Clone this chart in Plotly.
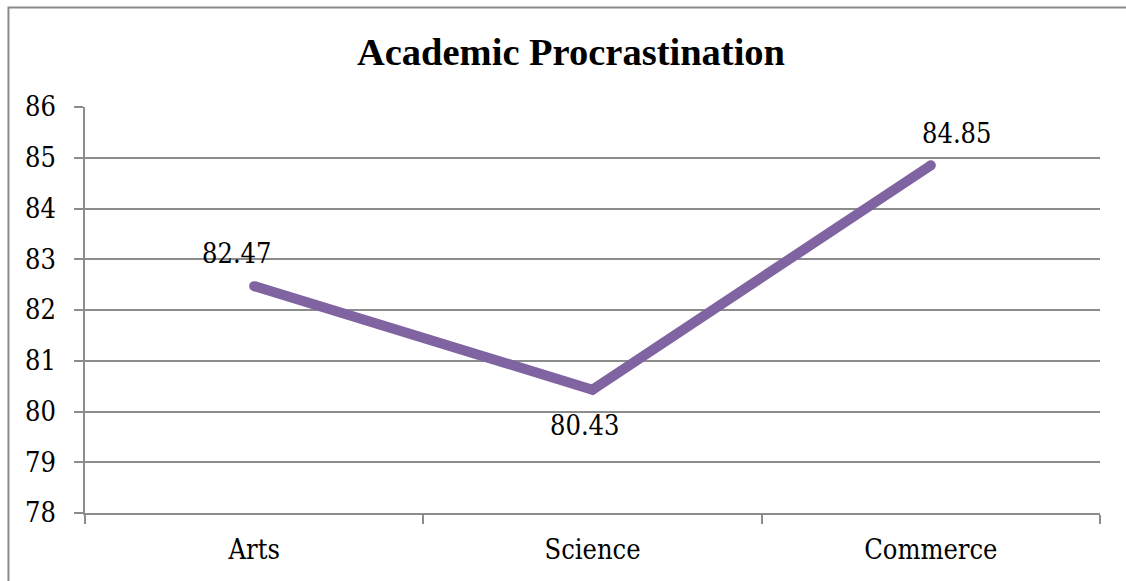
import plotly.graph_objects as go

# Mean academic procrastination score per stream
streams = ["Arts", "Science", "Commerce"]
scores = [82.47, 80.43, 84.85]
y_ticks = [78, 79, 80, 81, 82, 83, 84, 85, 86]

LINE_COLOR = "#8064A2"
GRID_COLOR = "#8c8c8c"
TITLE_FONT = "Liberation Serif"
TEXT_FONT = "DejaVu Serif Condensed, DejaVu Serif"
TEXT_SIZE = 27

fig = go.Figure()
fig.add_trace(go.Scatter(
    x=streams, y=scores, mode="lines+markers",
    line=dict(color=LINE_COLOR, width=10),
    marker=dict(color=LINE_COLOR, size=10),
    hoverinfo="x+y", showlegend=False,
))

# value labels (offsets in px relative to each point)
label_offsets = [(-17, 33), (-8, -36), (26, 32)]
for s, v, (dx, dy) in zip(streams, scores, label_offsets):
    fig.add_annotation(x=s, y=v, text=f"{v:.2f}", showarrow=False,
                       xshift=dx, yshift=dy,
                       font=dict(family=TEXT_FONT, size=TEXT_SIZE, color="#000"))

# outer chart frame
fig.add_shape(type="rect", xref="paper", yref="paper",
              x0=-0.0754, x1=1.05, y0=-0.2, y1=1.245,
              line=dict(color="#8a8a8a", width=2), layer="below")

fig.update_layout(
    width=1126, height=581,
    margin=dict(l=85, r=26, t=107, b=68),
    paper_bgcolor="white", plot_bgcolor="white",
    title=dict(text="<b>Academic Procrastination</b>",
               x=571 / 1126, xref="container", xanchor="center",
               y=1 - 52 / 581, yref="container", yanchor="middle",
               font=dict(family=TITLE_FONT, size=38.5, color="#000")),
    font=dict(family=TEXT_FONT, size=TEXT_SIZE, color="#000"),
    xaxis=dict(type="category", range=[-0.5, 2.5], tickson="boundaries",
               ticks="outside", ticklen=9, tickwidth=1.5, tickcolor=GRID_COLOR,
               showline=True, linecolor=GRID_COLOR, linewidth=1.5,
               showgrid=False, ticklabelstandoff=12,
               tickfont=dict(family=TEXT_FONT, size=TEXT_SIZE, color="#000")),
    yaxis=dict(range=[78, 86], tickvals=y_ticks, ticks="outside",
               ticklen=9, tickwidth=1.5, tickcolor=GRID_COLOR,
               showline=True, linecolor=GRID_COLOR, linewidth=1.5,
               showgrid=True, gridcolor=GRID_COLOR, gridwidth=1.5,
               zeroline=False, ticklabelstandoff=13,
               tickfont=dict(family=TEXT_FONT, size=TEXT_SIZE, color="#000")),
)

fig.write_html("out.html")
